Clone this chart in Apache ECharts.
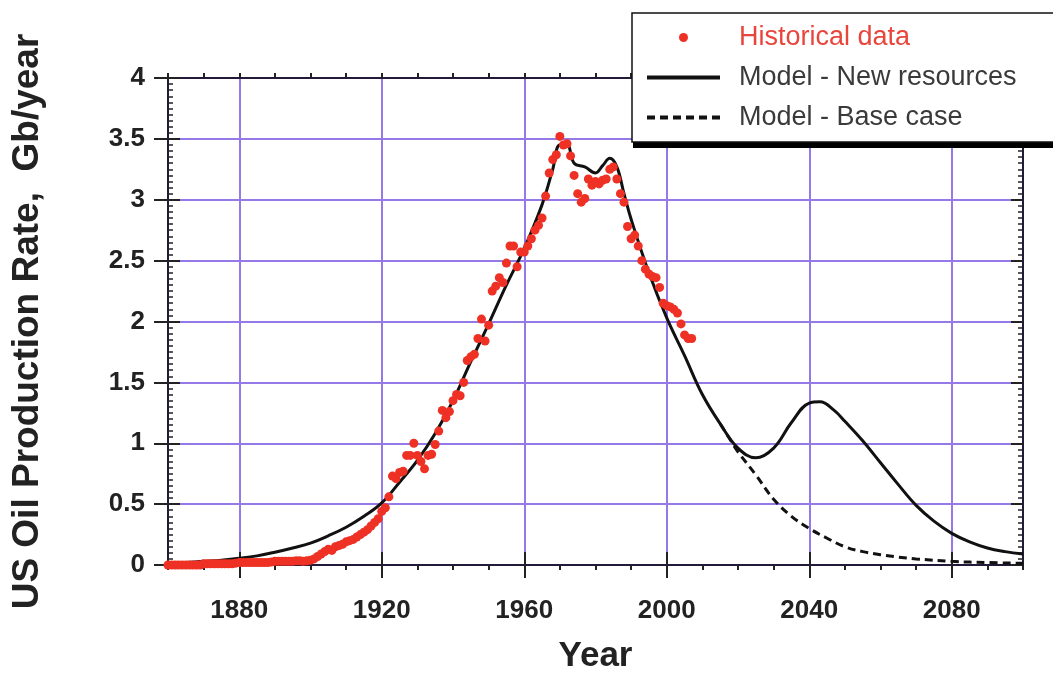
<!DOCTYPE html>
<html>
<head>
<meta charset="utf-8">
<script src="https://cdn.jsdelivr.net/npm/echarts@6/dist/echarts.min.js"></script>
<style>
  html, body { margin: 0; padding: 0; background: #ffffff; }
  #chart { width: 1053px; height: 673px; }
</style>
</head>
<body>
<div id="chart"></div>
<script>
// ---- Data ----
var histStartYear = 1860;
var histValues = [
  0.00, 0.00, 0.00, 0.00, 0.00, 0.00, 0.00, 0.00, 0.00, 0.00,   // 1860-1869
  0.01, 0.01, 0.01, 0.01, 0.01, 0.01, 0.01, 0.01, 0.01, 0.015,  // 1870-1879
  0.02, 0.02, 0.02, 0.02, 0.02, 0.02, 0.02, 0.02, 0.02, 0.025,  // 1880-1889
  0.03, 0.03, 0.03, 0.03, 0.03, 0.03, 0.035, 0.035, 0.03, 0.035, // 1890-1899
  0.04, 0.05, 0.07, 0.09, 0.11, 0.13, 0.12, 0.15, 0.16, 0.17,   // 1900-1909
  0.19, 0.20, 0.21, 0.23, 0.25, 0.27, 0.29, 0.32, 0.35, 0.38,   // 1910-1919
  0.44, 0.47, 0.56, 0.73, 0.71, 0.76, 0.77, 0.90, 0.90, 1.00,   // 1920-1929
  0.90, 0.85, 0.79, 0.90, 0.91, 0.99, 1.10, 1.27, 1.21, 1.26,   // 1930-1939
  1.35, 1.40, 1.39, 1.50, 1.68, 1.71, 1.73, 1.86, 2.02, 1.84,   // 1940-1949
  1.97, 2.25, 2.29, 2.36, 2.32, 2.48, 2.62, 2.62, 2.45, 2.57,   // 1950-1959
  2.57, 2.62, 2.68, 2.75, 2.79, 2.85, 3.03, 3.22, 3.33, 3.37,   // 1960-1969
  3.52, 3.45, 3.46, 3.36, 3.20, 3.05, 2.98, 3.01, 3.17, 3.12,   // 1970-1979
  3.15, 3.13, 3.16, 3.17, 3.25, 3.27, 3.17, 3.05, 2.98, 2.78,   // 1980-1989
  2.68, 2.71, 2.62, 2.50, 2.43, 2.39, 2.37, 2.36, 2.28, 2.15,   // 1990-1999
  2.13, 2.12, 2.10, 2.07, 1.98, 1.89, 1.86, 1.86                // 2000-2007
];

var modelYears = [1860, 1865, 1870, 1875, 1880, 1885, 1890, 1895, 1900, 1905, 1910, 1915, 1920, 1925,
  1930, 1935, 1940, 1945, 1950, 1955, 1960, 1965, 1968, 1970, 1972, 1974, 1977, 1980, 1982, 1984,
  1986, 1988, 1990, 1995, 2000, 2005, 2010, 2015, 2020, 2025, 2030, 2035, 2040, 2043, 2047, 2050,
  2055, 2060, 2065, 2070, 2075, 2080, 2085, 2090, 2095, 2100];
var modelNew = [0.01, 0.02, 0.03, 0.04, 0.055, 0.075, 0.105, 0.14, 0.18, 0.24, 0.31, 0.40, 0.51, 0.68,
  0.86, 1.08, 1.35, 1.67, 1.98, 2.30, 2.60, 2.96, 3.25, 3.45, 3.45, 3.30, 3.27, 3.22, 3.28, 3.34,
  3.27, 3.05, 2.84, 2.40, 2.03, 1.72, 1.40, 1.16, 0.96, 0.88, 0.96, 1.17, 1.33, 1.34, 1.27, 1.18,
  1.02, 0.84, 0.66, 0.49, 0.36, 0.26, 0.19, 0.14, 0.11, 0.09];

var baseYears = [2015, 2018, 2020, 2025, 2030, 2035, 2040, 2045, 2050, 2055, 2060, 2065, 2070, 2080, 2090, 2100];
var baseCase  = [1.16, 1.02, 0.93, 0.74, 0.54, 0.40, 0.30, 0.22, 0.15, 0.11, 0.085, 0.065, 0.05, 0.03, 0.02, 0.014];

var decadeTicks = ['1860','1870','1880','1890','1900','1910','1920','1930','1940','1950','1960','1970',
  '1980','1990','2000','2010','2020','2030','2040','2050','2060','2070','2080','2090','2100'];
var labelledYears = ['1880','1920','1960','2000','2040','2080'];
var yTickLabels = ['0','0.5','1','1.5','2','2.5','3','3.5','4'];

// ---- Build ----
var histData = histValues.map(function (v, i) { return [histStartYear + i, v]; });
var newData = modelYears.map(function (y, i) { return [y, modelNew[i]]; });
var baseData = baseYears.map(function (y, i) { return [y, baseCase[i]]; });

var GRID = '#9579e8';
var AXIS = '#221a38';
var FONT = 'Liberation Sans, Arial, sans-serif';
function isLabelled(idx, val) { return labelledYears.indexOf(String(val)) >= 0; }

var chart = echarts.init(document.getElementById('chart'), null, { renderer: 'canvas' });
chart.setOption({
  backgroundColor: '#ffffff',
  animation: false,
  grid: { left: 168, right: 30, top: 78, bottom: 108, containLabel: false, outerBoundsMode: 'none' },
  graphic: [
    // drop shadow strip of the legend box
    { type: 'rect', left: 633, top: 18, z: 50, silent: true,
      shape: { width: 440, height: 130 }, style: { fill: '#000' } }
  ],
  xAxis: [
    { type: 'value', min: 1860, max: 2100, interval: 10, position: 'bottom',
      axisLine: { show: true, onZero: false, lineStyle: { color: AXIS, width: 2 } },
      axisTick: { show: true, length: 5, lineStyle: { color: '#222', width: 2 } },
      axisLabel: { show: false }, splitLine: { show: false } },
    { type: 'category', data: decadeTicks, boundaryGap: false, position: 'bottom',
      name: 'Year', nameLocation: 'middle', nameGap: 74,
      nameTextStyle: { fontFamily: FONT, fontSize: 35, fontWeight: 'bold', color: '#222' },
      axisLine: { show: false },
      axisTick: { show: true, length: 13, interval: isLabelled, lineStyle: { color: '#222', width: 2 } },
      axisLabel: { show: true, interval: isLabelled, margin: 33, fontFamily: FONT, fontSize: 26, fontWeight: 'bold', color: '#222' },
      splitLine: { show: true, interval: isLabelled, lineStyle: { color: GRID, width: 2 } } },
    { type: 'value', min: 1860, max: 2100, interval: 10, position: 'top',
      axisLine: { show: true, onZero: false, lineStyle: { color: AXIS, width: 2 } },
      axisTick: { show: true, length: 5, lineStyle: { color: '#222', width: 2 } },
      axisLabel: { show: false }, splitLine: { show: false } },
    { type: 'category', data: decadeTicks, boundaryGap: false, position: 'top',
      axisLine: { show: false },
      axisTick: { show: true, length: 13, interval: isLabelled, lineStyle: { color: '#222', width: 2 } },
      axisLabel: { show: false }, splitLine: { show: false } }
  ],
  yAxis: [
    { type: 'value', min: 0, max: 4, interval: 0.5, position: 'left',
      name: 'US Oil Production Rate,  Gb/year', nameLocation: 'middle', nameGap: 122,
      nameTextStyle: { fontFamily: FONT, fontSize: 37, fontWeight: 'bold', color: '#222' },
      axisLine: { show: true, onZero: false, lineStyle: { color: AXIS, width: 2 } },
      axisTick: { show: true, length: 14, lineStyle: { color: '#222', width: 2 } },
      axisLabel: { show: true, margin: 23, fontFamily: FONT, fontSize: 26, fontWeight: 'bold', color: '#222',
        formatter: function (v) { return yTickLabels[Math.round(v * 2)]; } },
      splitLine: { show: true, lineStyle: { color: GRID, width: 2 } } },
    { type: 'value', min: 0, max: 4, interval: 0.5, position: 'left',
      axisLine: { show: true, onZero: false, lineStyle: { color: AXIS, width: 2 } },
      axisTick: { show: true, inside: true, length: 12, lineStyle: { color: '#222', width: 2 } },
      minorTick: { show: true, splitNumber: 10, length: 5, lineStyle: { color: '#222', width: 1.5 } },
      axisLabel: { show: false }, splitLine: { show: false } },
    { type: 'value', min: 0, max: 4, interval: 0.5, position: 'right',
      axisLine: { show: true, onZero: false, lineStyle: { color: AXIS, width: 2 } },
      axisTick: { show: true, inside: true, length: 12, lineStyle: { color: '#222', width: 2 } },
      minorTick: { show: true, splitNumber: 10, length: 5, lineStyle: { color: '#222', width: 1.5 } },
      axisLabel: { show: false }, splitLine: { show: false } }
  ],
  legend: {
    orient: 'vertical', left: 632, top: 13, z: 60,
    itemWidth: 73, itemHeight: 9, itemGap: 13,
    padding: [11, 40, 11, 13],
    backgroundColor: '#ffffff', borderColor: '#111', borderWidth: 1.5,
    textStyle: { fontFamily: FONT, fontSize: 27, color: '#3a3a3a', padding: [0, 0, 0, 14] },
    data: [
      { name: 'Historical data', textStyle: { color: '#e8463c' } },
      { name: 'Model - New resources', itemStyle: { opacity: 0 }, lineStyle: { width: 4 } },
      { name: 'Model - Base case', itemStyle: { opacity: 0 }, lineStyle: { width: 4 } }
    ]
  },
  series: [
    { name: 'Model - New resources', type: 'line', xAxisIndex: 0, yAxisIndex: 0,
      data: newData, smooth: 0.4, symbol: 'none', z: 3,
      lineStyle: { color: '#111', width: 3 }, itemStyle: { color: '#111' } },
    { name: 'Model - Base case', type: 'line', xAxisIndex: 0, yAxisIndex: 0,
      data: baseData, smooth: 0.4, symbol: 'none', z: 3,
      lineStyle: { color: '#111', width: 3, type: [8, 5] }, itemStyle: { color: '#111' } },
    { name: 'Historical data', type: 'scatter', xAxisIndex: 0, yAxisIndex: 0,
      data: histData, symbolSize: 9, z: 4,
      itemStyle: { color: '#ee3124', opacity: 1 } }
  ]
});
</script>
</body>
</html>
